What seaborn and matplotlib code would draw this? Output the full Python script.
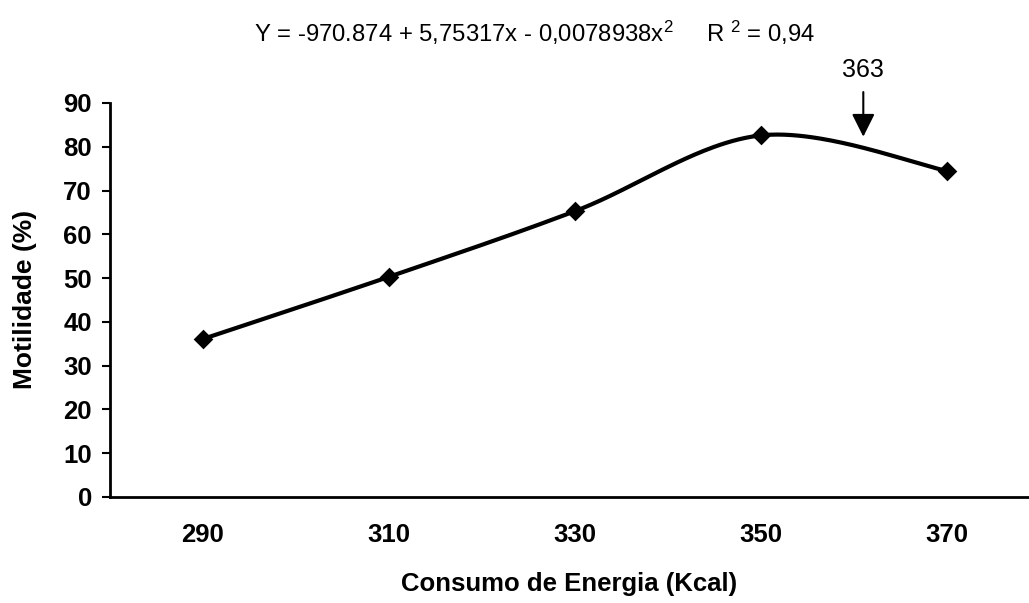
import numpy as np
import pandas as pd
import matplotlib
matplotlib.use("Agg")
import matplotlib.pyplot as plt
import seaborn as sns

# ---- data ----
categories = ["290", "310", "330", "350", "370"]
motilidade = [36.1, 50.3, 65.3, 82.6, 74.5]
y_ticks = [0, 10, 20, 30, 40, 50, 60, 70, 80, 90]
equation = "Y = -970.874 + 5,75317x - 0,0078938x$^{2}$     R $^{2}$ = 0,94"
optimum_label = "363"
optimum_pos = 3.55  # category-axis position of the arrow
xlabel = "Consumo de Energia (Kcal)"
ylabel = "Motilidade (%)"

sns.set_theme(style="white")
plt.rcParams["font.family"] = ["Liberation Sans", "DejaVu Sans"]
plt.rcParams["mathtext.fontset"] = "custom"
plt.rcParams["mathtext.rm"] = "Liberation Sans"
plt.rcParams["mathtext.it"] = "Liberation Sans:italic"
plt.rcParams["mathtext.bf"] = "Liberation Sans:bold"
for k in ["text.color", "axes.labelcolor", "xtick.color", "ytick.color"]:
    plt.rcParams[k] = "black"


def catmull_rom(x, y, n=60):
    x = np.asarray(x, float)
    y = np.asarray(y, float)
    px = np.concatenate([[x[0]], x, [x[-1]]])
    py = np.concatenate([[y[0]], y, [y[-1]]])
    outx, outy = [], []
    t = np.linspace(0, 1, n)
    for i in range(1, len(px) - 2):
        p0 = np.array([px[i], py[i]])
        p3 = np.array([px[i + 1], py[i + 1]])
        c1 = p0 + (np.array([px[i + 1], py[i + 1]]) - np.array([px[i - 1], py[i - 1]])) / 6.0
        c2 = p3 - (np.array([px[i + 2], py[i + 2]]) - np.array([px[i], py[i]])) / 6.0
        b = ((1 - t) ** 3)[:, None] * p0 + (3 * (1 - t) ** 2 * t)[:, None] * c1 \
            + (3 * (1 - t) * t ** 2)[:, None] * c2 + (t ** 3)[:, None] * p3
        outx.extend(b[:, 0])
        outy.extend(b[:, 1])
    return np.array(outx), np.array(outy)


W, H = 1029, 603
fig = plt.figure(figsize=(W / 100, H / 100), dpi=100)
left, right, top, bottom = 110, 1029, 103, 497
ax = fig.add_axes([left / W, 1 - bottom / H, (right - left) / W, (bottom - top) / H])

pos = np.arange(len(categories))
sx, sy = catmull_rom(pos, motilidade)
df_smooth = pd.DataFrame({"x": sx, "y": sy})
df_pts = pd.DataFrame({"x": pos, "y": motilidade})

sns.lineplot(data=df_smooth, x="x", y="y", ax=ax, color="black", linewidth=3.0,
             sort=False, estimator=None)
sns.scatterplot(data=df_pts, x="x", y="y", ax=ax, color="black", marker="D",
                s=100, edgecolor="black", linewidth=0, zorder=5)

ax.set_xlim(-0.5, -0.5 + (right - left) / 186.0)
ax.set_ylim(0, 90)

ax.set_yticks(y_ticks)
ax.set_yticklabels([str(v) for v in y_ticks], fontsize=18.5, fontweight="bold")
ax.set_xticks(pos)
ax.set_xticklabels(categories, fontsize=18.5, fontweight="bold")
ax.set_xticks(np.arange(len(categories)) - 0.5, minor=True)
ax.tick_params(axis="x", which="major", length=0, pad=19)
ax.tick_params(axis="x", which="minor", length=6, width=1.5, direction="out", color="black")
ax.tick_params(axis="y", which="major", length=6, width=1.5, direction="out", color="black", pad=7,
               left=True)

for s in ["top", "right"]:
    ax.spines[s].set_visible(False)
for s in ["left", "bottom"]:
    ax.spines[s].set_color("black")
    ax.spines[s].set_linewidth(2.0)

ax.set_xlabel(xlabel, fontsize=18.5, fontweight="bold")
ax.xaxis.label.set_va("center")
ax.xaxis.set_label_coords(0.5, -(584 - bottom) / (bottom - top))
ax.set_ylabel(ylabel, fontsize=19, fontweight="bold")
ax.yaxis.label.set_va("center")
ax.yaxis.set_label_coords(-(left - 25) / (right - left), 0.5 + (300 - 299) / (bottom - top))

fig.text(535 / W, 1 - 33 / H, equation, ha="center", va="center", fontsize=17.2)

ax.text(optimum_pos, 97.6, optimum_label, ha="center", va="center", fontsize=18,
        clip_on=False)
ax.annotate("", xy=(optimum_pos, 82.3), xytext=(optimum_pos, 92.5),
            textcoords="data", annotation_clip=False,
            arrowprops=dict(arrowstyle="-|>,head_length=1.4,head_width=0.7",
                            color="black", lw=1.5, shrinkA=0, shrinkB=0,
                            mutation_scale=10))

fig.savefig("out.png", dpi=100)
